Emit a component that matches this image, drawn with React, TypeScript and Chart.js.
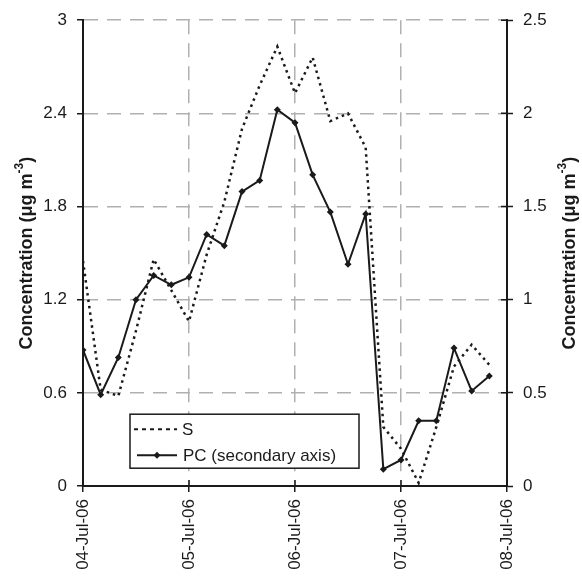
import React, { useEffect, useRef } from "react";
import { Chart, registerables } from "chart.js";

Chart.register(...registerables);

// ---- data ----
const xTickHours = [0, 24, 48, 72, 96];
const xTickLabels = ["04-Jul-06", "05-Jul-06", "06-Jul-06", "07-Jul-06", "08-Jul-06"];
const sampleHours = [0, 4, 8, 12, 16, 20, 24, 28, 32, 36, 40, 44, 48, 52, 56, 60, 64, 68, 72, 76, 80, 84, 88, 92];
const sValues = [1.45, 0.62, 0.58, 1.0, 1.46, 1.26, 1.06, 1.49, 1.83, 2.3, 2.58, 2.83, 2.53, 2.76, 2.35, 2.4, 2.18, 0.38, 0.24, 0.02, 0.38, 0.77, 0.91, 0.78];
const pcValues = [0.73, 0.49, 0.69, 1.0, 1.13, 1.08, 1.12, 1.35, 1.29, 1.58, 1.64, 2.02, 1.95, 1.67, 1.47, 1.19, 1.46, 0.09, 0.14, 0.35, 0.35, 0.74, 0.51, 0.59];
const leftTicks = [0, 0.6, 1.2, 1.8, 2.4, 3];
const rightTicks = [0, 0.5, 1, 1.5, 2, 2.5];
const seriesNames = ["S", "PC (secondary axis)"];
const axisTitleMain = "Concentration (\u03bcg m";
const axisTitleSup = "-3";
const axisTitleEnd = ")";

const FONT_FAMILY = '"Liberation Sans", Arial, Helvetica, sans-serif';
const INK = "#1a1a1a";
const GRID = "#b0b0b0";

const titlePlugin = {
  id: "axisTitles",
  afterDraw(chart: any) {
    const { ctx, chartArea } = chart;
    const cy = (chartArea.top + chartArea.bottom) / 2;
    const mainFont = `bold 18px ${FONT_FAMILY}`;
    const supFont = `bold 12px ${FONT_FAMILY}`;
    ctx.save();
    ctx.fillStyle = INK;
    ctx.textBaseline = "middle";
    ctx.font = mainFont;
    const w1 = ctx.measureText(axisTitleMain).width;
    const w3 = ctx.measureText(axisTitleEnd).width;
    ctx.font = supFont;
    const w2 = ctx.measureText(axisTitleSup).width;
    const total = w1 + w2 + w3;
    const drawAt = (x: number) => {
      ctx.save();
      ctx.translate(x, cy);
      ctx.rotate(-Math.PI / 2);
      ctx.textAlign = "left";
      let px = -total / 2;
      ctx.font = mainFont;
      ctx.fillText(axisTitleMain, px, 0);
      px += w1;
      ctx.font = supFont;
      ctx.fillText(axisTitleSup, px, -7);
      px += w2;
      ctx.font = mainFont;
      ctx.fillText(axisTitleEnd, px, 0);
      ctx.restore();
    };
    drawAt(chartArea.left - 56);
    drawAt(chartArea.right + 63);
    ctx.restore();
  },
};

// inward halves of the tick marks on the right and bottom axes
const innerTicksPlugin = {
  id: "innerTicks",
  afterDraw(chart: any) {
    const { ctx, chartArea, scales } = chart;
    ctx.save();
    ctx.strokeStyle = INK;
    ctx.lineWidth = 1.5;
    ctx.beginPath();
    rightTicks.forEach((v) => {
      const y = scales.y1.getPixelForValue(v);
      ctx.moveTo(chartArea.right - 6, y);
      ctx.lineTo(chartArea.right, y);
    });
    xTickHours.forEach((v) => {
      const x = scales.x.getPixelForValue(v);
      ctx.moveTo(x, chartArea.bottom - 6);
      ctx.lineTo(x, chartArea.bottom);
    });
    ctx.stroke();
    ctx.restore();
  },
};

const legendPlugin = {
  id: "insideLegend",
  afterDraw(chart: any) {
    const { ctx, chartArea } = chart;
    const x0 = chartArea.left + 47;
    const y0 = chartArea.top + 394;
    const w = 229;
    const h = 54;
    ctx.save();
    ctx.fillStyle = "#ffffff";
    ctx.fillRect(x0, y0, w, h);
    ctx.strokeStyle = INK;
    ctx.lineWidth = 1.5;
    ctx.strokeRect(x0, y0, w, h);

    ctx.font = `17px ${FONT_FAMILY}`;
    ctx.fillStyle = INK;
    ctx.textBaseline = "middle";
    ctx.textAlign = "left";

    // row 1: S (dotted)
    const r1 = y0 + 15;
    ctx.beginPath();
    ctx.setLineDash([4, 4]);
    ctx.lineWidth = 2;
    ctx.moveTo(x0 + 4, r1);
    ctx.lineTo(x0 + 47, r1);
    ctx.stroke();
    ctx.setLineDash([]);
    ctx.fillText(seriesNames[0], x0 + 52, r1 + 1);

    // row 2: PC solid with diamond
    const r2 = y0 + 41;
    ctx.beginPath();
    ctx.lineWidth = 2;
    ctx.moveTo(x0 + 7, r2);
    ctx.lineTo(x0 + 47, r2);
    ctx.stroke();
    const mx = x0 + 27;
    ctx.beginPath();
    ctx.moveTo(mx, r2 - 3.5);
    ctx.lineTo(mx + 3.5, r2);
    ctx.lineTo(mx, r2 + 3.5);
    ctx.lineTo(mx - 3.5, r2);
    ctx.closePath();
    ctx.fill();
    ctx.fillText(seriesNames[1], x0 + 53, r2 + 1);
    ctx.restore();
  },
};

export default function App() {
  const canvasRef = useRef<HTMLCanvasElement | null>(null);

  useEffect(() => {
    document.body.style.margin = "0";
    const canvas = canvasRef.current;
    if (!canvas) return;
    const tickFont = { family: FONT_FAMILY, size: 17 };

    const chart = new Chart(canvas, {
      type: "line",
      data: {
        datasets: [
          {
            label: seriesNames[0],
            data: sampleHours.map((h, i) => ({ x: h, y: sValues[i] })),
            yAxisID: "y",
            borderColor: INK,
            borderWidth: 2.5,
            borderDash: [2.5, 4],
            pointRadius: 0,
            tension: 0,
            fill: false,
          },
          {
            label: seriesNames[1],
            data: sampleHours.map((h, i) => ({ x: h, y: pcValues[i] })),
            yAxisID: "y1",
            borderColor: INK,
            borderWidth: 2,
            pointStyle: "rectRot",
            pointRadius: 3.5,
            pointBackgroundColor: INK,
            pointBorderColor: INK,
            pointBorderWidth: 0,
            tension: 0,
            fill: false,
          },
        ],
      },
      options: {
        animation: false,
        responsive: false,
        devicePixelRatio: 1,
        layout: { padding: { top: 19, left: 0, right: 0, bottom: 0 } },
        plugins: {
          legend: { display: false },
          tooltip: { enabled: false },
          title: { display: false },
        },
        scales: {
          x: {
            type: "linear",
            position: "bottom",
            min: xTickHours[0],
            max: xTickHours[xTickHours.length - 1],
            afterBuildTicks: (scale: any) => {
              scale.ticks = xTickHours.map((v) => ({ value: v }));
            },
            afterFit: (scale: any) => {
              scale.height = 93;
            },
            ticks: {
              autoSkip: false,
              maxRotation: 90,
              minRotation: 90,
              padding: 7,
              color: INK,
              font: tickFont,
              callback: (v: any) => xTickLabels[xTickHours.indexOf(Number(v))],
            },
            grid: {
              color: GRID,
              lineWidth: 1.5,
              tickLength: 6,
              tickColor: INK,
              tickWidth: 1.5,
              tickBorderDash: [],
            },
            border: { display: true, color: INK, width: 2, dash: [14, 9] },
          },
          y: {
            type: "linear",
            position: "left",
            min: 0,
            max: 3,
            afterBuildTicks: (scale: any) => {
              scale.ticks = leftTicks.map((v) => ({ value: v }));
            },
            afterFit: (scale: any) => {
              scale.width = 83;
            },
            ticks: {
              padding: 10,
              color: INK,
              font: tickFont,
              callback: (v: any) => String(v),
            },
            grid: {
              color: GRID,
              lineWidth: 1.5,
              tickLength: 6,
              tickColor: INK,
              tickWidth: 1.5,
              tickBorderDash: [],
            },
            border: { display: true, color: INK, width: 2, dash: [14, 9] },
          },
          y1: {
            type: "linear",
            position: "right",
            min: 0,
            max: 2.5,
            afterBuildTicks: (scale: any) => {
              scale.ticks = rightTicks.map((v) => ({ value: v }));
            },
            afterFit: (scale: any) => {
              scale.width = 75;
            },
            ticks: {
              padding: 10,
              color: INK,
              font: tickFont,
              callback: (v: any) => String(v),
            },
            grid: {
              drawOnChartArea: false,
              tickLength: 6,
              tickColor: INK,
              tickWidth: 1.5,
            },
            border: { display: true, color: INK, width: 2 },
          },
        },
      },
      plugins: [titlePlugin, innerTicksPlugin, legendPlugin],
    } as any);

    return () => {
      chart.destroy();
    };
  }, []);

  return (
    <div style={{ width: 582, height: 579, background: "#fff" }}>
      <canvas ref={canvasRef} width={582} height={579} style={{ display: "block" }} />
    </div>
  );
}
